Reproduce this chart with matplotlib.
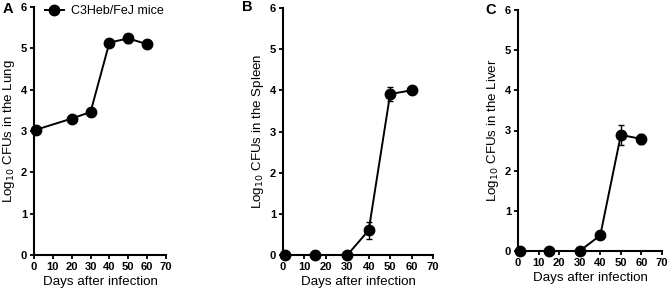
import matplotlib
matplotlib.use("Agg")
import matplotlib.pyplot as plt
from matplotlib.lines import Line2D

plt.rcParams["font.family"] = ["Liberation Sans", "DejaVu Sans"]

# data
days_lung = [1, 20, 30, 40, 50, 60]
cfu_lung = [3.03, 3.30, 3.46, 5.14, 5.24, 5.10]
err_lung = [0.03, 0.03, 0.03, 0.08, 0.10, 0.03]

days_spleen = [1, 15, 30, 40, 50, 60]
cfu_spleen = [0.0, 0.0, 0.0, 0.60, 3.91, 4.00]
err_spleen = [0.0, 0.0, 0.0, 0.20, 0.18, 0.03]

days_liver = [1, 15, 30, 40, 50, 60]
cfu_liver = [0.0, 0.0, 0.0, 0.39, 2.89, 2.79]
err_liver = [0.0, 0.0, 0.0, 0.02, 0.25, 0.12]

x_ticks = [0, 10, 20, 30, 40, 50, 60, 70]
y_ticks = [0, 1, 2, 3, 4, 5, 6]

W, H = 669, 294
fig = plt.figure(figsize=(W / 100, H / 100), dpi=100)


def px_axes(x0, x1, y_top, y_bot):
    return fig.add_axes([x0 / W, 1 - y_bot / H, (x1 - x0) / W, (y_bot - y_top) / H])


def style(ax, organ):
    ax.set_xlim(0, 70)
    ax.set_ylim(0, 6)
    ax.set_xticks(x_ticks)
    ax.set_yticks(y_ticks)
    for s in ["top", "right"]:
        ax.spines[s].set_visible(False)
    for s in ["left", "bottom"]:
        ax.spines[s].set_linewidth(1.5)
    ax.tick_params(direction="out", length=3, width=1.3, pad=2, labelsize=8)
    for lab in ax.get_xticklabels() + ax.get_yticklabels():
        lab.set_fontweight("bold")
    ax.set_xlabel("Days after infection", fontsize=9.6, labelpad=3)
    ax.set_ylabel(f"Log$_{{10}}$ CFUs in the {organ}", fontsize=9.6, labelpad=3)


panels = [
    (px_axes(34, 166, 7, 255), days_lung, cfu_lung, err_lung, "Lung", "A", 3, 9),
    (px_axes(283, 433, 8, 255), days_spleen, cfu_spleen, err_spleen, "Spleen", "B", 242, 7),
    (px_axes(518, 662, 10, 251), days_liver, cfu_liver, err_liver, "Liver", "C", 485, 10),
]

for ax, x, y, e, organ, letter, lx, ly in panels:
    ax.errorbar(x, y, yerr=e, color="black", lw=1.4, marker="o", ms=7.5,
                capsize=2.5, elinewidth=1.0, capthick=1.0, clip_on=False,
                zorder=3)
    style(ax, organ)
    fig.text(lx / W, 1 - ly / H, letter, fontsize=10.5, fontweight="bold",
             ha="left", va="center")

proxy = Line2D([], [], color="black", lw=1.4, marker="o", ms=7.5)
fig.legend([proxy], ["C3Heb/FeJ mice"], loc="center left",
           bbox_to_anchor=(45 / W, 1 - 11 / H), frameon=False, fontsize=9,
           handlelength=1.5, handletextpad=0.6, borderaxespad=0, borderpad=0)

fig.savefig("out.png", dpi=100)
